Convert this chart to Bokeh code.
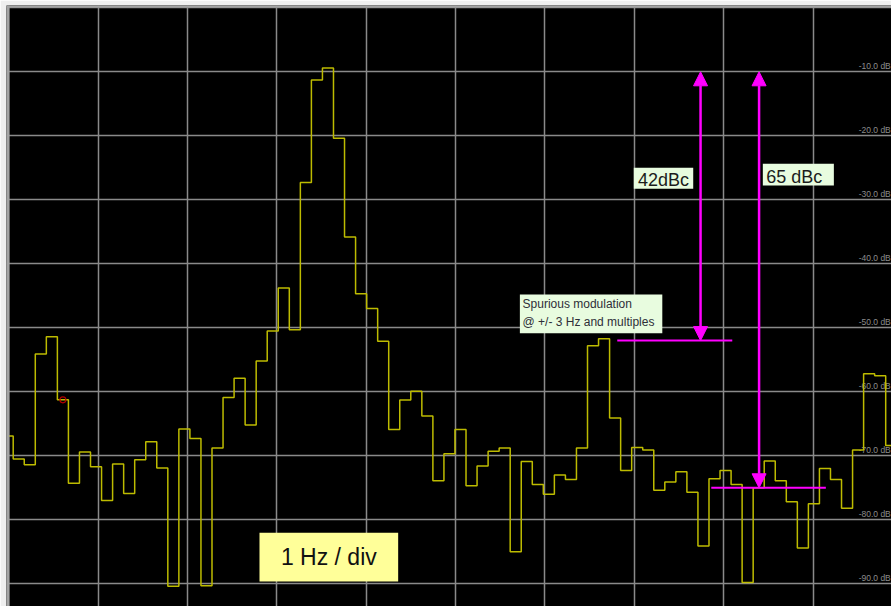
import numpy as np
from bokeh.plotting import figure
from bokeh.models import Range1d, FixedTicker, Arrow, NormalHead, BoxAnnotation, ColumnDataSource
from bokeh.core.properties import value
from bokeh.embed import file_html
from bokeh.resources import INLINE

# ---- spectrum trace (1 Hz / div, one value per analysis bin) ----
bin_start_hz = -0.0131
bin_step_hz = 0.1236
level_db = [
    -66.9, -70.5, -71.4, -54.1, -51.4, -61.25, -74.3, -69.4, -71.7, -77.0,
    -71.3, -75.9, -70.6, -67.8, -71.9, -90.4, -65.8, -67.3, -90.3, -68.8,
    -60.9, -57.9, -65.2, -55.2, -50.5, -43.8, -50.3, -27.3, -11.3, -9.4,
    -20.4, -35.8, -44.7, -47.0, -52.1, -65.9, -61.3, -59.9, -63.8, -73.9,
    -69.7, -65.9, -74.7, -71.6, -69.3, -68.8, -85.0, -70.9, -74.5, -76.0,
    -73.0, -73.7, -68.8, -52.8, -51.7, -64.1, -72.3, -68.7, -69.1, -75.4,
    -74.1, -72.5, -75.7, -84.1, -73.6, -72.3, -74.5, -89.8, -75.0, -70.8,
    -73.9, -77.2, -84.4, -77.5, -72.0, -73.7, -78.2, -69.1, -57.2, -57.5,
    -68.4,
]
freq_hz = bin_start_hz + bin_step_hz * np.arange(len(level_db))

# cursor marker sits on this bin
marker_bin = 5

# ---- measurement arrows ----
carrier_ref_db = -10.0
dbc_values = [42, 65]
arrow_x_hz = [7.741, 8.396]
dbc_labels = ["42dBc", "65 dBc"]
ref_line_x0 = [6.809, 7.861]
ref_line_x1 = [8.096, 9.143]

# ---- grid / scale labels ----
x_ticks = list(range(0, 10))
y_ticks = [-90, -80, -70, -60, -50, -40, -30, -20, -10, 0]
scale_values = [-10, -20, -30, -40, -50, -60, -70, -80, -90]
scale_labels = ["%.1f dB" % v for v in scale_values]

MAGENTA = "#ff00ff"
FONT = value("Liberation Sans")

p = figure(
    width=891, height=606,
    x_range=Range1d(-0.0263, 9.878), y_range=Range1d(-93.55, 0.36),
    toolbar_location=None, output_backend="svg",
    x_axis_location=None, y_axis_location=None,
    min_border_left=6, min_border_top=5, min_border_right=0, min_border_bottom=0,
    background_fill_color="black", border_fill_color="#efefef",
)
p.outline_line_color = None

p.xgrid.ticker = FixedTicker(ticks=x_ticks)
p.ygrid.ticker = FixedTicker(ticks=y_ticks)
for g in (p.xgrid, p.ygrid):
    g.grid_line_color = "#8a8a8a"
    g.grid_line_width = 1.5

# screen frame edges (left and top)
p.add_layout(BoxAnnotation(right=0.0073, fill_color="#a4a4a4", fill_alpha=1, line_color=None))
p.add_layout(BoxAnnotation(bottom=0.047, fill_color="#a4a4a4", fill_alpha=1, line_color=None))

# level scale text along the right side
p.text(x=[9.87] * len(scale_values), y=[v + 0.2 for v in scale_values], text=scale_labels,
       text_font=FONT, text_font_size="8.5px", text_color="#8c8c8c",
       text_align="right", text_baseline="bottom")

# spectrum trace
p.step(x=freq_hz, y=level_db, mode="center", line_color="#bdbb00", line_width=1.5)
p.scatter(x=[freq_hz[marker_bin]], y=[level_db[marker_bin]], marker="circle", size=6,
          fill_alpha=0, line_color="#b00000", line_width=1.2)

# measurement reference lines and arrows
meas_db = [carrier_ref_db - d for d in dbc_values]
p.segment(x0=ref_line_x0, x1=ref_line_x1, y0=meas_db, y1=meas_db,
          line_color=MAGENTA, line_width=2)
arrows = ColumnDataSource(dict(x=arrow_x_hz, y0=[carrier_ref_db] * 2, y1=meas_db))
p.add_layout(Arrow(
    start=NormalHead(size=14, fill_color=MAGENTA, line_color=MAGENTA),
    end=NormalHead(size=14, fill_color=MAGENTA, line_color=MAGENTA),
    x_start="x", y_start="y0", x_end="x", y_end="y1", source=arrows,
    line_color=MAGENTA, line_width=2.5,
))

# text boxes
note_fill = "#e8fcdf"
p.quad(left=[6.994, 8.438, 5.719], right=[7.659, 9.233, 7.313],
       top=[-25.0, -24.375, -44.8], bottom=[-28.28, -27.77, -50.84],
       fill_color=note_fill, line_color=None)
p.text(x=[7.327], y=[-26.88], text=[dbc_labels[0]], text_font=FONT, text_font_size="18px",
       text_color="#1c1c1c", text_align="center", text_baseline="middle")
p.text(x=[8.476], y=[-26.36], text=[dbc_labels[1]], text_font=FONT, text_font_size="18px",
       text_color="#1c1c1c", text_align="left", text_baseline="middle")
p.text(x=[5.749, 5.749], y=[-46.33, -49.08],
       text=["Spurious modulation", "@ +/- 3 Hz and multiples"],
       text_font=FONT, text_font_size="12px", text_color="#2e2e38",
       text_align="left", text_baseline="middle")

p.quad(left=[2.805], right=[4.357], top=[-82.03], bottom=[-89.64],
       fill_color="#ffff99", line_color=None)
p.text(x=[3.581], y=[-85.84], text=["1 Hz / div"], text_font=FONT, text_font_size="23px",
       text_color="#111111", text_align="center", text_baseline="middle")

open("out.html", "w").write(file_html(p, INLINE))
